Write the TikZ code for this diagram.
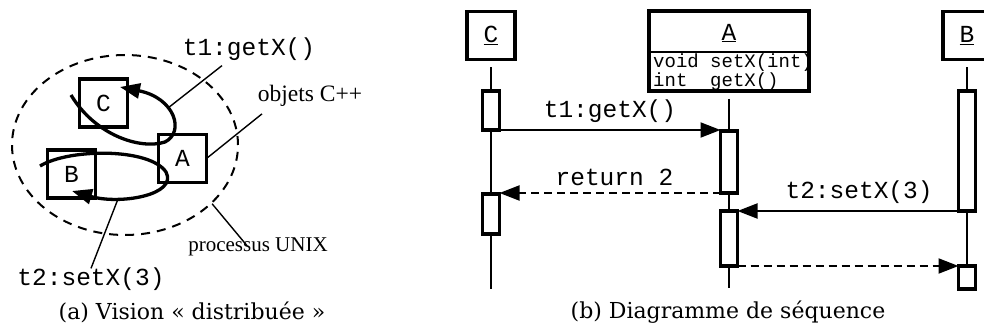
\documentclass[tikz,border=0pt]{standalone}
\usepackage{fontspec}
\setmonofont{Liberation Mono}
\newfontfamily\labfont{Liberation Serif}
\newfontfamily\capfont{DejaVu Serif}
\usetikzlibrary{arrows.meta,shapes.geometric}
\tikzset{
  obj/.style={draw,line width=3.4pt,minimum width=48pt,minimum height=48pt,inner sep=0pt,outer sep=0pt,
    font=\ttfamily\fontsize{24.5}{26}\selectfont},
  act/.style={draw,line width=3.2pt,fill=white,minimum width=17pt,inner sep=0pt,outer sep=0pt},
  life/.style={line width=2pt},
  lead/.style={line width=1.4pt},
  tip/.style={-{Triangle[length=20pt,width=15pt]}},
  msg/.style={line width=2pt,tip},
  ret/.style={msg,dash pattern=on 8pt off 5pt},
  call/.style={line width=3.3pt,tip},
  mono/.style={font=\ttfamily\fontsize{24.5}{26}\selectfont,inner sep=0pt},
  serif/.style={font=\labfont\fontsize{21}{22}\selectfont,inner sep=0pt},
  capt/.style={font=\capfont\fontsize{22}{24}\selectfont,inner sep=0pt}
}
\begin{document}
\begin{tikzpicture}[x=1pt,y=-1pt]
\useasboundingbox (0,0) rectangle (984,331);
% (a) vision distribuee
\node[draw,ellipse,line width=2pt,dash pattern=on 9pt off 7pt,minimum width=226pt,minimum height=180pt] (proc) at (125,145) {};
\node[obj] (C) at (103.5,103) {C};
\node[obj] (B) at (71.5,174) {B};
\node[obj] (A) at (182.5,158.5) {A};
\coordinate (g0) at (71,95); \coordinate (g1) at (120,87);
\coordinate (s0) at (40,166); \coordinate (s1) at (72,191);
\draw[call] (g0) .. controls (95,135) and (140,150) .. (165,142) .. controls (185,132) and (175,98) .. (g1);
\draw[call] (s0) .. controls (70,148) and (150,148) .. (166,172) .. controls (178,195) and (120,205) .. (s1);
\node[mono] (lt1) at (249,49) {t1:getX()};
\node[serif,font=\labfont\fontsize{23.5}{24}\selectfont] (lobj) at (310,96) {objets C++};
\node[serif] (lproc) at (258,247) {processus UNIX};
\node[mono] (lt2) at (91,279) {t2:setX(3)};
\coordinate (t1end) at (168,108); \coordinate (t2end) at (118,199);
\draw[lead] ([xshift=-27pt,yshift=-5pt]lt1.south) -- (t1end);
\draw[lead] ([xshift=-48pt,yshift=-7pt]lobj.south) -- (A.east);
\draw[lead] ([xshift=-11pt,yshift=-8pt]lproc.north) -- (proc.-34);
\draw[lead] ([yshift=-1pt]lt2.north) -- (t2end);
\node[capt] (capa) at (192,312) {(a) Vision « distribuée »};
% (b) diagramme de sequence
\node[obj] (sC) at (491,35.5) {\underline{C}};
\node[obj] (sB) at (967,35.5) {\underline{B}};
\node[mono,font=\ttfamily\fontsize{19}{15.5}\selectfont,align=left,anchor=north west] (ops) at (653,54) {void setX(int)\\int~~getX()};
\node[mono] (tA) at (729,33) {\underline{A}};
\node[draw,line width=3.4pt,minimum width=160pt,minimum height=80pt,inner sep=0pt,outer sep=0pt] (sA) at (729,51) {};
\draw[line width=1.4pt] (sA.west |- 0,52) -- (sA.east |- 0,52);
\coordinate (cend) at (491,289); \coordinate (aend) at (729,288); \coordinate (bend) at (967,289);
\draw[life] ([yshift=-8pt]sC.south) -- (cend);
\draw[life] ([yshift=-8pt]sA.south) -- (aend);
\draw[life] ([yshift=-8pt]sB.south) -- (bend);
\node[act,minimum height=39pt] (c1) at (491,110.5) {};
\node[act,minimum height=40pt] (c2) at (491,214) {};
\node[act,minimum height=62pt] (a1) at (729,162) {};
\node[act,minimum height=55pt] (a2) at (729,238.5) {};
\node[act,minimum height=120pt] (b1) at (967,151) {};
\node[act,minimum height=23pt] (b2) at (967,277.5) {};
\draw[msg] (c1.south east) -- (c1.south east -| a1.west) node[mono,midway,above=6pt] (m1) {t1:getX()};
\draw[ret] (a1.south west) -- (a1.south west -| c2.east) node[mono,pos=0.48,above=6pt] (m2) {return 2};
\draw[msg] (b1.south west) -- (b1.south west -| a2.east) node[mono,pos=0.45,above=6pt] (m3) {t2:setX(3)};
\draw[ret] (a2.south east) -- (a2.south east -| b2.west);
\node[capt] (capb) at (728,312) {(b) Diagramme de séquence};
\end{tikzpicture}
\end{document}
